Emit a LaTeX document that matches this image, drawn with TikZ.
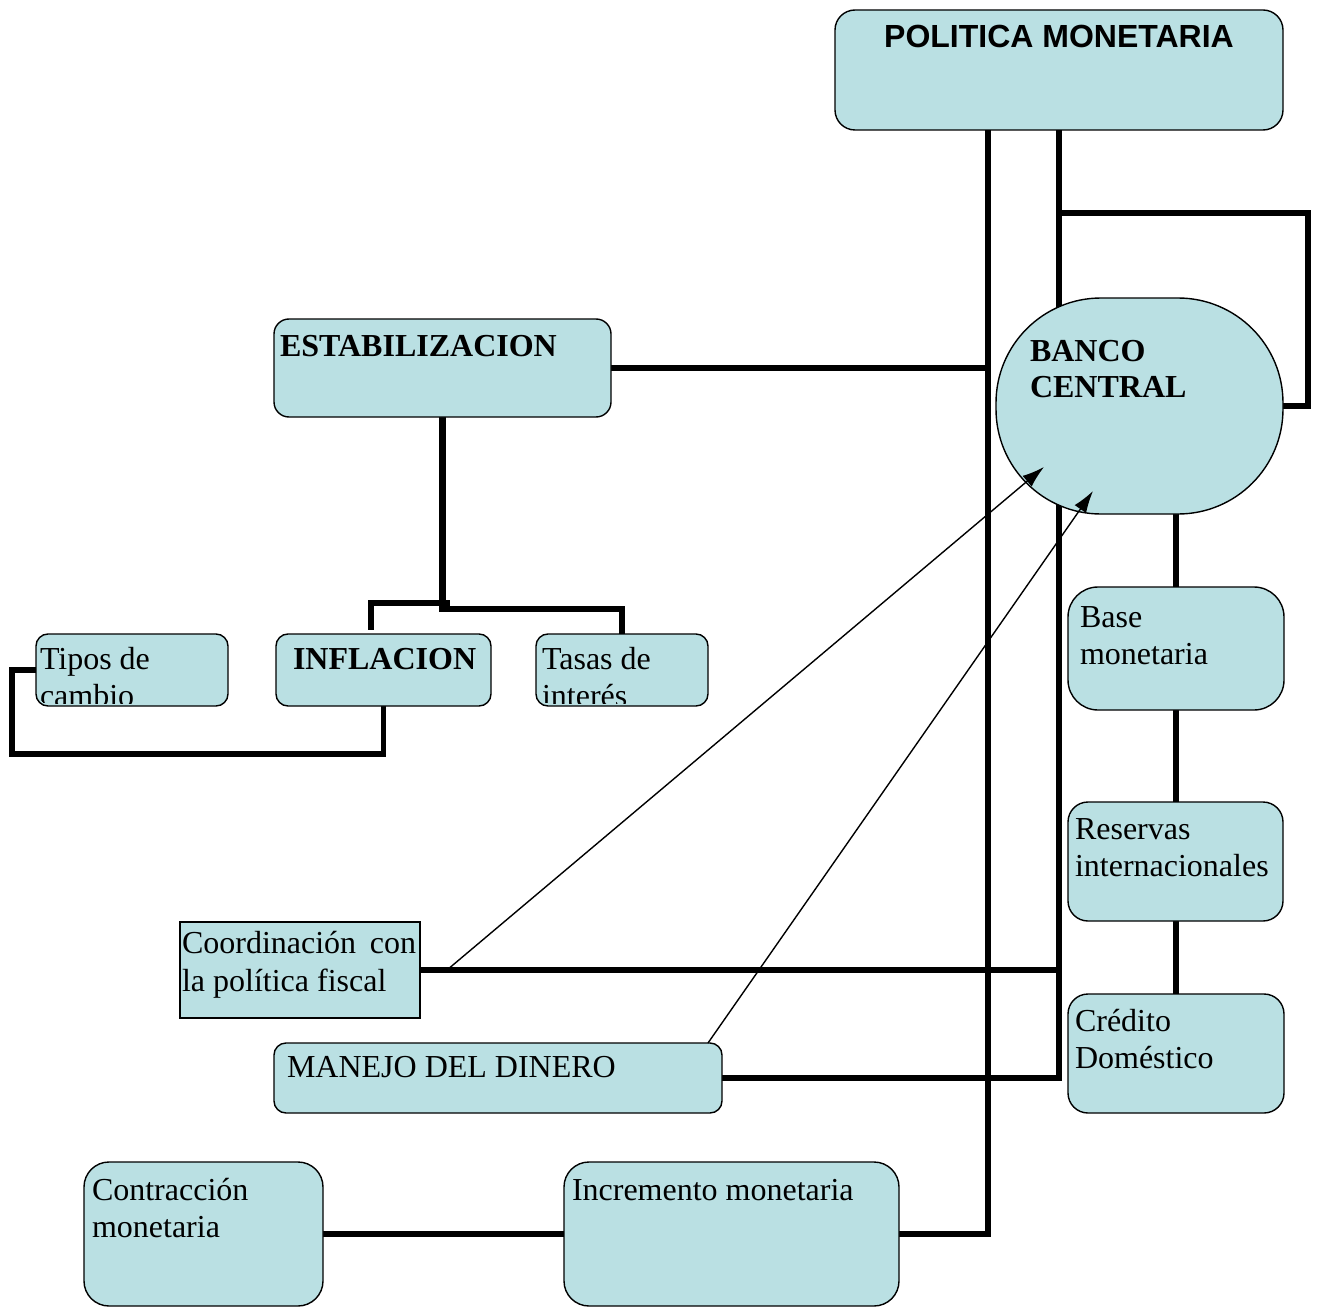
\documentclass[tikz,border=0pt]{standalone}
\usepackage{fontspec}
\setmainfont{Liberation Serif}
\newfontfamily\headsans{Liberation Sans}
\usetikzlibrary{arrows.meta,calc}
\pgfdeclarelayer{bg}
\pgfsetlayers{bg,main}
\definecolor{boxfill}{RGB}{186,224,227}

\tikzset{
  box/.style={draw=black, line width=1.4pt, fill=boxfill, inner sep=0pt, outer sep=0pt, anchor=north west},
  txt/.style={inner sep=0pt, outer sep=0pt, anchor=base west, font=\fontsize{32}{37}\selectfont},
  btxt/.style={txt, font=\fontsize{32}{37}\selectfont\bfseries},
  link/.style={line width=5.5pt, line join=miter, line cap=rect},
  pointer/.style={line width=1.4pt, -{Latex[length=22pt,width=14pt]}}
}

\begin{document}
\begin{tikzpicture}[x=1pt,y=-1pt]
\useasboundingbox (0,0) rectangle (1323,1308);

% ---- boxes ----
\node[box, rounded corners=20pt, minimum width=448pt, minimum height=120pt] (pm) at (835,10) {};
\node[box, rounded corners=15pt, minimum width=337pt, minimum height=98pt] (estab) at (274,319) {};
\node[box, rounded corners=105pt, minimum width=287pt, minimum height=216pt] (bc) at (996,298) {};
\node[box, rounded corners=12pt, minimum width=192pt, minimum height=72pt] (tipos) at (36,634) {};
\node[box, rounded corners=12pt, minimum width=215pt, minimum height=72pt] (infl) at (276,634) {};
\node[box, rounded corners=12pt, minimum width=172pt, minimum height=72pt] (tasas) at (536,634) {};
\node[box, rounded corners=30pt, minimum width=216pt, minimum height=123pt] (base) at (1068,587) {};
\node[box, rounded corners=20pt, minimum width=215pt, minimum height=119pt] (reservas) at (1068,802) {};
\node[box, rounded corners=20pt, minimum width=216pt, minimum height=119pt] (credito) at (1068,994) {};
\node[box, minimum width=240pt, minimum height=96pt] (coord) at (180,922) {};
\node[box, rounded corners=12pt, minimum width=448pt, minimum height=70pt] (manejo) at (274,1043) {};
\node[box, rounded corners=25pt, minimum width=239pt, minimum height=144pt] (contr) at (84,1162) {};
\node[box, rounded corners=25pt, minimum width=335pt, minimum height=144pt] (incr) at (564,1162) {};

% ---- labels ----
\node[inner sep=0pt, anchor=base, font=\fontsize{32}{37}\selectfont\headsans\bfseries] (pm-t) at (1059,48) {POLITICA MONETARIA};
\node[btxt] (estab-t) at (280,356) {ESTABILIZACION};
\node[btxt] (bc-t1) at (1030,361) {BANCO};
\node[btxt] (bc-t2) at (1030,397) {CENTRAL};
\node[btxt] (infl-t) at (293,669) {INFLACION};
\begin{scope}
  \clip[rounded corners=12pt] (36,634) rectangle (228,703);
  \node[txt] (tipos-t1) at (40,669) {Tipos de};
  \node[txt] (tipos-t2) at (40,706) {cambio};
\end{scope}
\begin{scope}
  \clip[rounded corners=12pt] (536,634) rectangle (708,703);
  \node[txt] (tasas-t1) at (542,669) {Tasas de};
  \node[txt] (tasas-t2) at (542,706) {interés};
\end{scope}
\node[txt] (base-t1) at (1080,627) {Base};
\node[txt] (base-t2) at (1080,664) {monetaria};
\node[txt] (res-t1) at (1075,839) {Reservas};
\node[txt] (res-t2) at (1075,876) {internacionales};
\node[txt] (cred-t1) at (1075,1031) {Crédito};
\node[txt] (cred-t2) at (1075,1068) {Doméstico};
\node[txt] (coord-t1) at (182,953) {\makebox[234pt][l]{Coordinación\hfill con}};
\node[txt] (coord-t2) at (182,991) {la política fiscal};
\node[txt] (manejo-t) at (287,1077) {MANEJO DEL DINERO};
\node[txt] (contr-t1) at (92,1200) {Contracción};
\node[txt] (contr-t2) at (92,1237) {monetaria};
\node[txt] (incr-t) at (572,1200) {Incremento monetaria};

% ---- junction points ----
\coordinate (trunk) at (988,0);
\coordinate (loop) at (1308,213);
\coordinate (split-l) at (447,603);
\coordinate (split-r) at (444,609);
\coordinate (infl-stub) at (371,627);
\coordinate (low-left) at (12,754);
\coordinate (fiscal-tap) at (447,970);
\coordinate (bc-in1) at (1044,467);
\coordinate (bc-in2) at (1093,491);
\coordinate (manejo-tap) at (708,1043);

% ---- connectors ----
\begin{pgfonlayer}{bg}
  \draw[link] (pm.south -| trunk) |- (incr.east);
  \draw[link] (contr.east) -- (incr.west);
  \draw[link] (pm.south) |- (manejo.east);
  \draw[link] (pm.south |- loop) -| (bc.east -| loop) -- (bc.east);
  \draw[link] (estab.east) -- (estab.east -| trunk);
  \draw[link] (coord.east) -- (coord.east -| pm.south);
  \draw[link, line width=6.5pt] (estab.south) -- (estab.south |- split-r);
  \draw[link] (estab.south |- split-r) -| (tasas.north);
  \draw[link] (split-l) -| (infl-stub);
  \draw[link] (infl.south) |- (low-left) |- (tipos.west);
  \draw[link] (base.north) -- (base.north |- bc.south);
  \draw[link] (base.south) -- (reservas.north -| base.south);
  \draw[link] (reservas.south -| base.south) -- (credito.north -| base.south);
\end{pgfonlayer}

% ---- arrows into the central bank ----
\draw[pointer] (fiscal-tap) -- (bc-in1);
\draw[pointer] (manejo-tap) -- (bc-in2);
\end{tikzpicture}
\end{document}
